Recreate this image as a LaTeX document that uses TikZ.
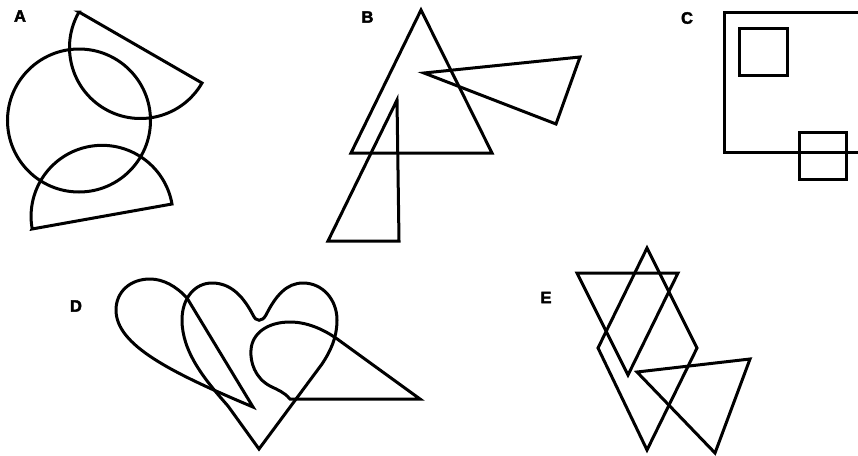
\documentclass[tikz,border=0pt]{standalone}
\usepackage{fontspec}
\setmainfont{Liberation Sans}
\newfontfamily\labelfont[FakeBold=2.5]{Liberation Sans}
\begin{document}
\begin{tikzpicture}[x=1pt,y=-1pt,
  shape line/.style={draw=black,line width=3pt,line join=miter},
  panel label/.style={font=\fontsize{16.5}{16.5}\labelfont\bfseries,inner sep=0pt,anchor=center}]
\useasboundingbox[fill=white] (0,0) rectangle (858,455);
% labels
\node[panel label] (la) at (20,16) {A};
\node[panel label] (lb) at (367.5,17) {B};
\node[panel label] (lc) at (687,18) {C};
\node[panel label] (ld) at (76,306) {D};
\node[panel label] (le) at (546,297.5) {E};
% A
\draw[shape line] (79,120.5) circle[radius=71.5];
\draw[shape line] (79,12) -- (202,83) arc[start angle=30,end angle=210,radius=71] -- cycle;
\draw[shape line] (32,229) -- (172,204) arc[start angle=-10,end angle=-190,radius=71] -- cycle;
% B
\draw[shape line] (421,10) -- (492,153) -- (351,153) -- cycle;
\draw[shape line] (424,73) -- (580,57) -- (556,124) -- cycle;
\draw[shape line] (397,100) -- (399,241) -- (328,241) -- cycle;
% C
\draw[shape line] (860,12) -- (724,12) -- (724,152) -- (860,152);
\draw[shape line] (739,28) rectangle (787,75);
\draw[shape line] (799,132) rectangle (846,179);
% D heart
\draw[shape line] (259,449) -- (228,406) .. controls (205,380) and (182,352) .. (182,320)
  .. controls (182,298) and (195,283) .. (212,283)
  .. controls (232,283) and (244,298) .. (253,315)
  .. controls (256,322) and (262,322) .. (266,315)
  .. controls (276,295) and (287,283) .. (303,283)
  .. controls (323,283) and (337,300) .. (337,320)
  .. controls (337,338) and (330,352) .. (322,364)
  -- cycle;
% D left teardrop
\draw[shape line] (253,407) -- (187,298) .. controls (176,286) and (163,279) .. (150,279)
  .. controls (130,279) and (116,292) .. (116,310)
  .. controls (116,345) and (170,372) .. (253,407) -- cycle;
% D right teardrop
\draw[shape line] (420,399) -- (290,399) .. controls (284,392) and (278,390) .. (270,386)
  .. controls (255,378) and (250,362) .. (251,350)
  .. controls (252,333) and (268,322) .. (290,322)
  .. controls (310,322) and (328,332) .. (340,341) -- cycle;
% E
\draw[shape line] (577,273) -- (678,273) -- (628,375) -- cycle;
\draw[shape line] (647,248) -- (697,348) -- (647,450) -- (598,348) -- cycle;
\draw[shape line] (637,372) -- (750,359) -- (715,453) -- cycle;
\end{tikzpicture}
\end{document}
